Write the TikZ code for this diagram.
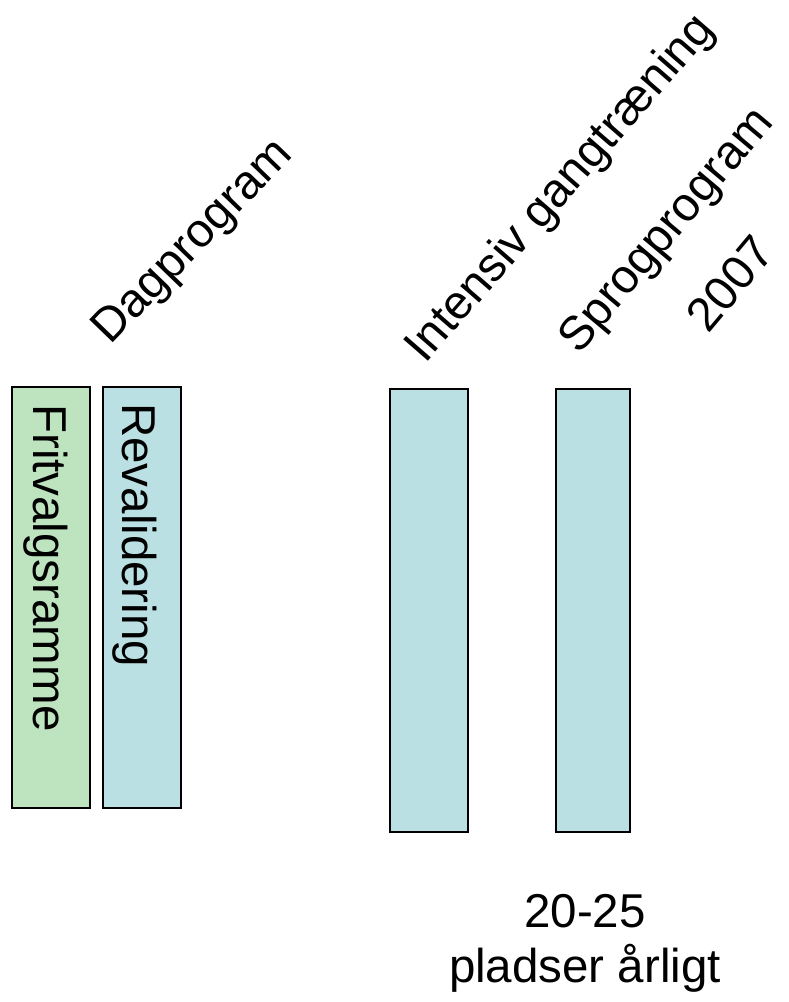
\documentclass[tikz,border=0pt]{standalone}
\usepackage{fontspec}
\setmainfont{Liberation Sans}
\usepackage{tikz}
\definecolor{my green}{HTML}{BDE3BF}
\definecolor{my blue}{HTML}{BBE0E3}
\tikzset{
    bar/.style={draw=black, line width=2pt, inner sep=0pt, anchor=north west, minimum width=#1},
    big text/.style={font=\fontsize{47.5}{55}\selectfont, inner sep=0pt}
}

\begin{document}
\begin{tikzpicture}[x=1pt, y=-1pt]
                \useasboundingbox (0, 0) rectangle (788, 1002);
                \node [bar=78pt, fill=my green, minimum height=421pt] (fritvalg) at (11, 386) {};
                \node [bar=78pt, fill=my blue, minimum height=421pt] (revalidering) at (102, 386) {};
                \node [bar=78pt, fill=my blue, minimum height=443pt] (gang) at (389, 388) {};
                \node [bar=74pt, fill=my blue, minimum height=443pt] (sprog) at (555, 388) {};
                \node [big text, rotate=-90, anchor=base west] (fritvalg text) at (33, 404) {Fritvalgsramme};
                \node [big text, rotate=-90, anchor=base west] (revalidering text) at (122, 403) {Revalidering};
                \node [big text, rotate=46, anchor=base west] (dag label) at (110.5, 346) {Dagprogram};
                \node [big text, rotate=49, anchor=base west] (gang label) at (425, 365) {Intensiv gangtræning};
                \node [big text, rotate=50, align=center] (sprog label) at (697, 256) {Sprogprogram\\[30pt]2007};
                \node [big text, align=center] (pladser) at (585, 943) {20-25\\pladser årligt};
            \end{tikzpicture}
\end{document}
